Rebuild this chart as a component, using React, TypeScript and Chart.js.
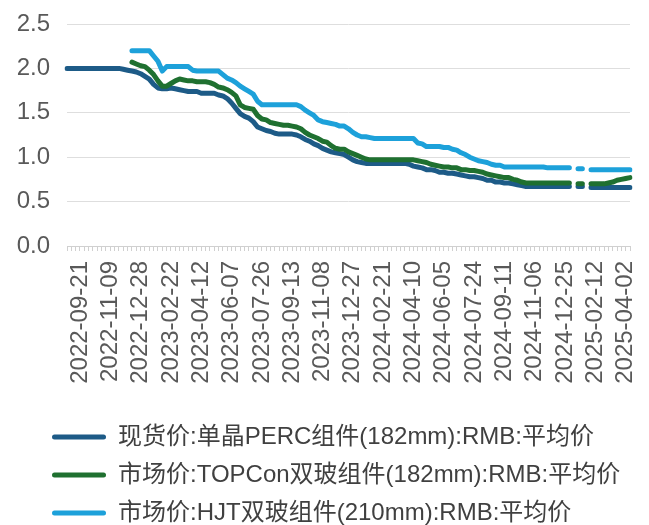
import React, { useEffect, useRef } from "react";
import { Chart, registerables } from "chart.js";

Chart.register(...registerables);

// Visible tick labels (every 7th weekly category)
const TICK_DATES = [
  "2022-09-21", "2022-11-09", "2022-12-28", "2023-02-22", "2023-04-12",
  "2023-06-07", "2023-07-26", "2023-09-13", "2023-11-08", "2023-12-27",
  "2024-02-21", "2024-04-10", "2024-06-05", "2024-07-24", "2024-09-11",
  "2024-11-06", "2024-12-25", "2025-02-12", "2025-04-02",
];
const LEAD_DATES = ["2022-08-31", "2022-09-07", "2022-09-14"];
const TAIL_DATES = ["2025-04-09"];

function fmtDate(ms: number): string {
  const d = new Date(ms);
  const m = String(d.getUTCMonth() + 1).padStart(2, "0");
  const day = String(d.getUTCDate()).padStart(2, "0");
  return `${d.getUTCFullYear()}-${m}-${day}`;
}

// weekly categories between the tick dates (one holiday week skipped in 8-week spans)
function buildCategories(): string[] {
  const out: string[] = [...LEAD_DATES];
  const WEEK = 7 * 86400000;
  for (let k = 0; k < TICK_DATES.length; k++) {
    out.push(TICK_DATES[k]);
    if (k < TICK_DATES.length - 1) {
      const a = Date.parse(TICK_DATES[k]);
      const b = Date.parse(TICK_DATES[k + 1]);
      const weeks = Math.round((b - a) / WEEK);
      for (let j = 1; j <= 6; j++) {
        const w = weeks === 8 && j >= 4 ? j + 1 : j;
        out.push(fmtDate(a + w * WEEK));
      }
    }
  }
  out.push(...TAIL_DATES);
  return out;
}
const CATEGORIES = buildCategories();

const N = null;

const PERC: (number | null)[] = [
  2.0, 2.0, 2.0, 2.0, 2.0, 2.0, 2.0, 2.0, 2.0, 2.0, 2.0, 2.0, 2.0,
  1.99, 1.98, 1.97, 1.96, 1.94, 1.91, 1.88, 1.82, 1.78, 1.77, 1.77, 1.78,
  1.77, 1.76, 1.75, 1.74, 1.74, 1.74, 1.72, 1.72, 1.72, 1.72, 1.70, 1.69,
  1.66, 1.61, 1.55, 1.49, 1.46, 1.44, 1.40, 1.34, 1.32, 1.30, 1.29, 1.27,
  1.26, 1.26, 1.26, 1.26, 1.25, 1.23, 1.20, 1.18, 1.15, 1.13, 1.10, 1.08,
  1.06, 1.05, 1.04, 1.03, 1.00, 0.97, 0.95, 0.94, 0.93,
  0.93, 0.93, 0.93, 0.93, 0.93, 0.93, 0.93, 0.93, 0.93,
  0.92, 0.90, 0.89, 0.88, 0.86, 0.86, 0.85, 0.83, 0.83, 0.82, 0.82, 0.81,
  0.80, 0.79, 0.78, 0.78, 0.77, 0.76, 0.74, 0.74, 0.72, 0.72, 0.71, 0.71,
  0.70, 0.69, 0.68,
  0.67, 0.67, 0.67, 0.67, 0.67, 0.67, 0.67, 0.67, 0.67, 0.67, 0.67,
  N, 0.67, 0.67, N,
  0.66, 0.66, 0.66, 0.66, 0.66, 0.66, 0.66, 0.66, 0.66, 0.66,
];

const TOPCON: (number | null)[] = [
  N, N, N, N, N, N, N, N, N, N, N, N, N, N, N,
  2.07, 2.05, 2.03, 2.02, 1.98, 1.93, 1.86, 1.80, 1.80, 1.83, 1.86, 1.88,
  1.87, 1.86, 1.86, 1.85, 1.85, 1.85, 1.84, 1.82, 1.79, 1.78, 1.76, 1.73,
  1.69, 1.59, 1.56, 1.55, 1.54, 1.47, 1.43, 1.42, 1.39, 1.38, 1.37, 1.36,
  1.36, 1.35, 1.34, 1.32, 1.28, 1.25, 1.23, 1.21, 1.18, 1.17, 1.13, 1.10,
  1.09, 1.09, 1.06, 1.04, 1.02, 1.00, 0.98,
  0.97, 0.97, 0.97, 0.97, 0.97, 0.97, 0.97, 0.97, 0.97, 0.97, 0.97,
  0.96, 0.95, 0.94, 0.92, 0.91, 0.90, 0.89, 0.89, 0.88, 0.88, 0.86, 0.86,
  0.85, 0.85, 0.84, 0.83, 0.81, 0.80, 0.79, 0.78, 0.77, 0.77, 0.75, 0.74,
  0.72,
  0.71, 0.71, 0.71, 0.71, 0.71, 0.71, 0.71, 0.71, 0.71, 0.71, 0.71,
  N, 0.70, 0.70, N,
  0.70, 0.70, 0.70, 0.70, 0.71, 0.72, 0.74, 0.75, 0.76, 0.77,
];

const HJT: (number | null)[] = [
  N, N, N, N, N, N, N, N, N, N, N, N, N, N, N,
  2.20, 2.20, 2.20, 2.20, 2.20, 2.14, 2.08, 1.97, 2.02,
  2.02, 2.02, 2.02, 2.02, 2.02, 1.98,
  1.97, 1.97, 1.97, 1.97, 1.97, 1.97,
  1.93, 1.89, 1.87, 1.84, 1.80, 1.77, 1.74, 1.71, 1.63,
  1.59, 1.59, 1.59, 1.59, 1.59, 1.59, 1.59, 1.59, 1.59,
  1.57, 1.53, 1.50, 1.47, 1.42, 1.40, 1.39, 1.38, 1.37, 1.35, 1.35, 1.32,
  1.28, 1.25, 1.23, 1.23, 1.22,
  1.21, 1.21, 1.21, 1.21, 1.21, 1.21, 1.21, 1.21, 1.21, 1.21,
  1.16, 1.15, 1.12, 1.12, 1.12, 1.12,
  1.11, 1.11, 1.09, 1.08, 1.05, 1.03, 1.00, 0.98, 0.96, 0.95, 0.94, 0.92,
  0.91, 0.91, 0.89,
  0.89, 0.89, 0.89, 0.89, 0.89, 0.89, 0.89, 0.89, 0.89,
  0.88, 0.88, 0.88, 0.88, 0.88, 0.88,
  N, 0.87, 0.87, N,
  0.86, 0.86, 0.86, 0.86, 0.86, 0.86, 0.86, 0.86, 0.86, 0.86,
];

const SERIES_NAMES = [
  "现货价:单晶PERC组件(182mm):RMB:平均价",
  "市场价:TOPCon双玻组件(182mm):RMB:平均价",
  "市场价:HJT双玻组件(210mm):RMB:平均价",
];
const SERIES_COLORS = ["#1D5B87", "#1F7030", "#1DA1DA"];
const Y_TICKS = [0, 0.5, 1.0, 1.5, 2.0, 2.5];

const FONT = "'Liberation Sans', 'Noto Sans CJK SC', Arial, sans-serif";

// moves the legend block so its rows start where the reference's do
const legendShift = {
  id: "legendShift",
  afterLayout(chart: any) {
    if (chart.legend) chart.legend.left = 38;
  },
};

export default function App() {
  const canvasRef = useRef<HTMLCanvasElement | null>(null);

  useEffect(() => {
    if (!canvasRef.current) return;
    const values = [PERC, TOPCON, HJT];
    const chart = new Chart(canvasRef.current, {
      type: "line",
      data: {
        labels: CATEGORIES,
        datasets: values.map((v, i) => ({
          label: SERIES_NAMES[i],
          data: v,
          borderColor: SERIES_COLORS[i],
          backgroundColor: SERIES_COLORS[i],
          borderWidth: 5,
          pointRadius: 0,
          pointHoverRadius: 0,
          tension: 0,
          spanGaps: false,
          borderCapStyle: "round" as const,
          borderJoinStyle: "round" as const,
          order: 3 - i,
        })),
      },
      plugins: [legendShift],
      options: {
        responsive: false,
        animation: false,
        layout: { padding: { left: 8, right: 19, top: 24, bottom: -10 } },
        plugins: {
          tooltip: { enabled: false },
          legend: {
            position: "bottom",
            align: "start",
            labels: {
              font: { family: FONT, size: 24 },
              color: "#404040",
              boxWidth: 54,
              boxHeight: 5,
              padding: 14,
              generateLabels: (ch: any) =>
                ch.data.datasets.map((ds: any, i: number) => ({
                  text: ds.label,
                  fillStyle: ds.borderColor,
                  strokeStyle: ds.borderColor,
                  lineWidth: 0,
                  borderRadius: 2.5,
                  hidden: false,
                  datasetIndex: i,
                  fontColor: "#404040",
                })),
            },
          },
        },
        scales: {
          x: {
            type: "category",
            offset: false,
            grid: {
              display: true,
              drawOnChartArea: false,
              drawTicks: true,
              tickLength: 5,
              color: "#d0d0d0",
              offset: false,
            },
            border: { display: true, color: "#d0d0d0", width: 1 },
            ticks: {
              autoSkip: false,
              maxRotation: 90,
              minRotation: 90,
              padding: 10,
              color: "#595959",
              font: { family: FONT, size: 24 },
              callback: (_v: any, i: number) =>
                TICK_DATES.includes(CATEGORIES[i]) ? CATEGORIES[i] : "",
            },
            afterFit: (scale: any) => {
              scale.height = 165;
              scale.paddingLeft = 0;
              scale.paddingRight = 0;
            },
          },
          y: {
            min: 0,
            max: 2.5,
            afterBuildTicks: (scale: any) => {
              scale.ticks = Y_TICKS.map((v) => ({ value: v }));
            },
            grid: { color: "#dedede", drawTicks: false, lineWidth: 1 },
            border: { display: false },
            ticks: {
              padding: 17,
              color: "#595959",
              font: { family: FONT, size: 24 },
              callback: (v: any) => Number(v).toFixed(1),
            },
            afterFit: (scale: any) => {
              scale.width = 59;
              scale.paddingTop = 0;
              scale.paddingBottom = 0;
            },
          },
        },
      },
    });
    return () => chart.destroy();
  }, []);

  return (
    <div style={{ position: "absolute", left: 0, top: 0, width: 649, height: 525, background: "#fff" }}>
      <canvas ref={canvasRef} width={649} height={525} style={{ display: "block" }} />
    </div>
  );
}
